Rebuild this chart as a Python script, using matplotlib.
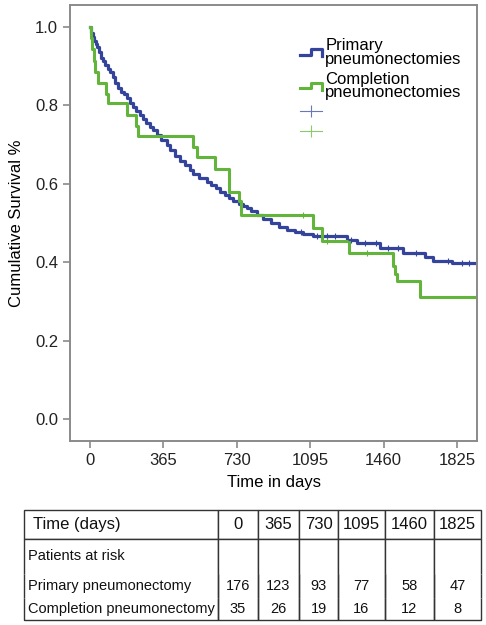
import numpy as np
import matplotlib
matplotlib.use("Agg")
import matplotlib.pyplot as plt
from matplotlib.lines import Line2D
from matplotlib.legend_handler import HandlerBase

plt.rcParams["font.family"] = ["Liberation Sans", "DejaVu Sans"]

# Kaplan-Meier steps
primary_t = [0, 5, 12, 20, 28, 35, 45, 55, 65, 75, 88, 100, 112, 125, 140, 155, 170, 183,
             200, 215, 230, 249, 265, 280, 300, 315, 335, 355, 381, 400, 420, 448, 470, 495,
             514, 540, 580, 600, 625, 647, 670, 690, 713, 740, 760, 780, 800, 830, 861, 900,
             940, 979, 1020, 1060, 1108, 1278, 1327, 1442, 1556, 1666, 1706, 1800, 1925]
primary_s = [1.0, 0.985, 0.975, 0.965, 0.957, 0.949, 0.935, 0.922, 0.912, 0.903, 0.894, 0.886,
             0.872, 0.858, 0.845, 0.835, 0.828, 0.82, 0.805, 0.795, 0.785, 0.776, 0.765, 0.755,
             0.745, 0.737, 0.725, 0.712, 0.698, 0.686, 0.672, 0.658, 0.648, 0.635, 0.624, 0.614,
             0.605, 0.598, 0.588, 0.578, 0.571, 0.564, 0.556, 0.548, 0.543, 0.538, 0.53, 0.52,
             0.51, 0.5, 0.49, 0.482, 0.476, 0.472, 0.467, 0.457, 0.449, 0.436, 0.423, 0.413,
             0.403, 0.398, 0.398]
completion_t = [0, 4, 10, 18, 26, 38, 80, 90, 183, 228, 236, 512, 530, 622, 692, 739, 750,
                1108, 1153, 1288, 1507, 1515, 1525, 1641, 1925]
completion_s = [1.0, 0.971, 0.943, 0.914, 0.886, 0.857, 0.829, 0.805, 0.776, 0.748, 0.722,
                0.695, 0.668, 0.637, 0.58, 0.555, 0.52, 0.487, 0.454, 0.423, 0.39, 0.37, 0.352,
                0.311, 0.311]
primary_censor = [1050, 1130, 1180, 1220, 1300, 1370, 1420, 1480, 1530, 1620, 1780, 1850, 1885]
completion_censor = [1060, 1180, 1380]

xticks = [0, 365, 730, 1095, 1460, 1825]
yticks = [0.0, 0.2, 0.4, 0.6, 0.8, 1.0]

col_labels = ["Time (days)", "0", "365", "730", "1095", "1460", "1825"]
risk_primary = [176, 123, 93, 77, 58, 47]
risk_completion = [35, 26, 19, 16, 12, 8]

blue = "#34449b"
green = "#62b43a"
grey = "#8a8a8a"


class StepHandler(HandlerBase):
    def create_artists(self, legend, orig, xd, yd, w, h, fs, trans):
        xs = [-xd, -xd + 0.5 * w, -xd + 0.5 * w, -xd + w, -xd + w]
        ys = [-yd + 0.3 * h, -yd + 0.3 * h, -yd + 0.75 * h, -yd + 0.75 * h, -yd + 0.2 * h]
        ln = Line2D(xs, ys, color=orig.get_color(), lw=orig.get_linewidth(), transform=trans)
        return [ln]


fig = plt.figure(figsize=(4.86, 6.25), dpi=100)
ax = fig.add_axes([70 / 486, 1 - 441 / 625, 407 / 486, 436 / 625])

l1, = ax.step(primary_t, primary_s, where="post", color=blue, lw=2.3)
l2, = ax.step(completion_t, completion_s, where="post", color=green, lw=2.2)

def at(ts, ss, c):
    i = np.searchsorted(ts, c, side="right") - 1
    return np.array(ss)[i]

ax.plot(primary_censor, at(primary_t, primary_s, primary_censor), "+", color=blue, ms=4, mew=0.8)
ax.plot(completion_censor, at(completion_t, completion_s, completion_censor), "+", color=green, ms=4, mew=0.8)

ax.set_xlim(-100, 1925)
ax.set_ylim(-0.056, 1.056)
ax.set_xticks(xticks)
ax.set_yticks(yticks)
ax.set_yticklabels(["%.1f" % v for v in yticks])
for s in ax.spines.values():
    s.set_color(grey)
    s.set_linewidth(1.4)
ax.tick_params(direction="out", length=5, width=1.2, color=grey, labelsize=12,
               labelcolor="#222222")
ax.set_xlabel("Time in days", fontsize=12, labelpad=5)
ax.set_ylabel("Cumulative Survival %", fontsize=12, labelpad=8)

c1 = Line2D([], [], color="#6b78b8", lw=0.8, marker="|", ms=9, mew=0.8)
c2 = Line2D([], [], color="#8cc96a", lw=0.8, marker="|", ms=9, mew=0.8)
ax.legend([l1, l2, c1, c2],
          ["Primary\npneumonectomies", "Completion\npneumonectomies", " ", " "],
          handler_map={l1: StepHandler(), l2: StepHandler()},
          loc="upper left", bbox_to_anchor=(0.566, 0.925), frameon=False,
          fontsize=12, handlelength=1.3, handletextpad=0.2, labelspacing=0.3,
          borderpad=0, borderaxespad=0)
for t in ax.get_legend().get_texts():
    t.set_linespacing(0.9)

# at-risk table
tab_ax = fig.add_axes([24 / 486, 1 - 620 / 625, 457 / 486, 110 / 625])
tab_ax.axis("off")
rows = [col_labels,
        ["Patients at risk"] + [""] * 6,
        ["Primary pneumonectomy"] + [str(v) for v in risk_primary],
        ["Completion pneumonectomy"] + [str(v) for v in risk_completion]]
widths = np.array([194, 40, 41, 39, 47, 49, 47]) / 457
heights = np.array([29, 35, 24, 22]) / 110
tb = tab_ax.table(cellText=rows, colWidths=list(widths), bbox=[0, 0, 1, 1], cellLoc="center")
tb.auto_set_font_size(False)
edges = ["closed", "LRT", "LR", "LRB"]
for (r, c), cell in tb.get_celld().items():
    cell.set_height(heights[r])
    cell.visible_edges = edges[r]
    cell.set_edgecolor("#333333")
    cell.set_linewidth(1)
    cell.get_text().set_fontsize(12 if r == 0 else 10.5)
    cell.get_text().set_color("#111111")
    if c == 0:
        cell.PAD = 0.02 if r else 0.045
        cell.get_text().set_ha("left")
        cell._loc = "left"

fig.savefig("out.png", dpi=100)
